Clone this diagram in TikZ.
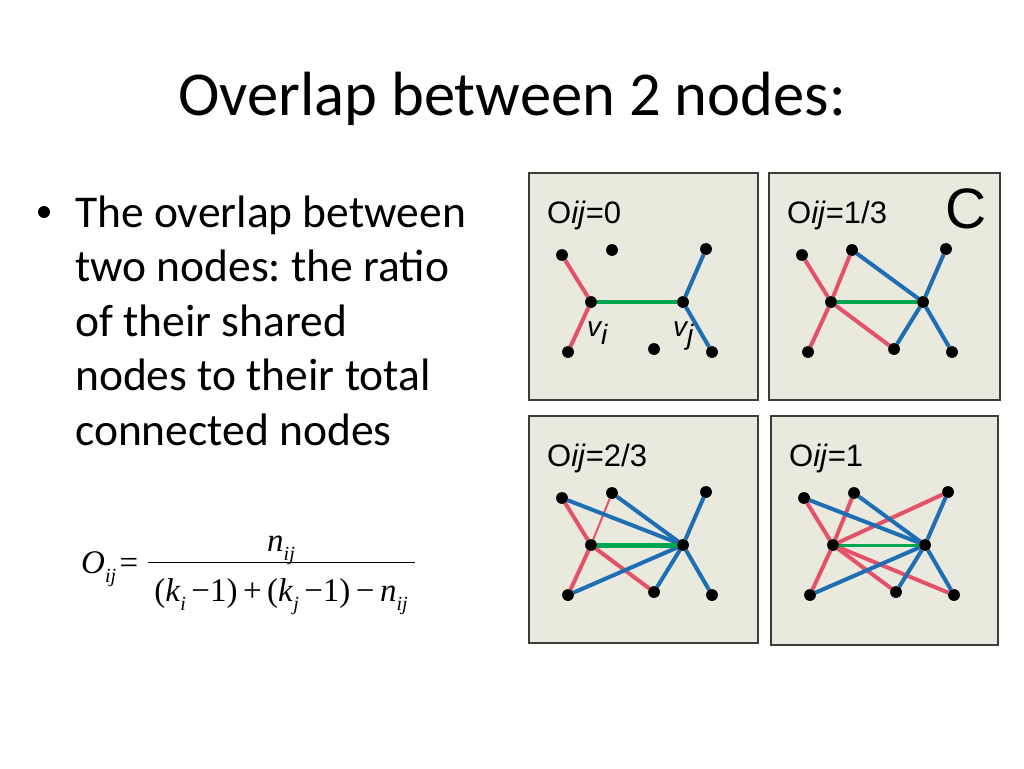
\documentclass[tikz,border=0pt]{standalone}
\usepackage{fontspec}
\setmainfont{Carlito}
\newfontfamily\hv{Liberation Sans}
\newfontfamily\tms{Liberation Serif}
\frenchspacing
\definecolor{pbg}{RGB}{233,233,222}
\definecolor{pborder}{RGB}{60,60,60}
\definecolor{ered}{RGB}{228,82,106}
\definecolor{eblue}{RGB}{30,110,180}
\definecolor{egreen}{RGB}{0,165,80}
\newcommand\mysub[1]{\raisebox{-0.3em}{\fontsize{20}{20}\selectfont\itshape #1}}
\newcommand\vsub[1]{\raisebox{-8pt}{#1}}
\tikzset{
  panel/.style={draw=pborder, line width=2.2pt, fill=pbg},
  dot/.style={circle, fill=black, inner sep=0pt, minimum size=11.5pt},
  redge/.style={draw=ered, line width=4pt},
  bedge/.style={draw=eblue, line width=4pt},
  gedge/.style={draw=egreen, line width=4pt},
  plabel/.style={anchor=base west, inner sep=0pt, font=\hv\fontsize{31}{31}\selectfont},
  vlabel/.style={anchor=base west, inner sep=0pt, font=\hv\itshape\fontsize{28}{28}\selectfont},
  title/.style={anchor=base, inner sep=0pt, font=\fontsize{62.5}{62.5}\selectfont},
  body/.style={anchor=base west, inner sep=0pt, font=\fontsize{45.5}{45.5}\selectfont},
  fml/.style={inner sep=0pt, font=\tms\fontsize{33}{33}\selectfont}
}
\newcommand\graphnodes[1]{%
  \node[dot] (#1TL) at (33,82) {};
  \node[dot] (#1TM) at (83,77) {};
  \node[dot] (#1vi) at (62,129) {};
  \node[dot] (#1vj) at (154,129) {};
  \node[dot] (#1TR) at (177,76) {};
  \node[dot] (#1BL) at (39,179) {};
  \node[dot] (#1BM) at (125,176) {};
  \node[dot] (#1BR) at (183,179) {};
}
\begin{document}
\begin{tikzpicture}[x=1pt,y=-1pt]
\useasboundingbox[fill=white] (0,0) rectangle (1024,768);
% title
\node[title] (ttl) at (512,115) {Overlap between 2 nodes:};
% bullet
\node[circle, fill=black, inner sep=0pt, minimum size=12pt] (bul) at (44,212) {};
\node[body] (l1) at (75,227) {The overlap between};
\node[body] (l2) at (75,281.5) {two nodes: the ratio};
\node[body] (l3) at (75,336) {of their shared};
\node[body] (l4) at (75,390.5) {nodes to their total};
\node[body] (l5) at (75,445) {connected nodes};
% formula
\node[fml, anchor=base west] (fO) at (81,573) {\itshape O\mysub{ij}};
\node[fml, anchor=center] (feq) at (129,566) {=};
\draw[line width=1pt] (148,562) -- (415,562) coordinate (fline);
\node[fml, anchor=base] (fnum) at (281,551) {\itshape n\mysub{ij}};
\node[fml, anchor=base] (fden) at (281,601) {(\textit{k}\mysub{i}\,−1)\,+\,(\textit{k}\mysub{j}\,−1)\,−\,\textit{n}\mysub{ij}};
% panel 1
\begin{scope}[shift={(529,173)}]
  \draw[panel] (0,0) rectangle (229,227);
  \node[plabel] (p1lab) at (18,50) {O\textit{ij}=0};
  \graphnodes{a}
  \draw[redge] (aTL) -- (avi) -- (aBL);
  \draw[bedge] (aTR) -- (avj) -- (aBR);
  \draw[gedge] (avi) -- (avj);
  \graphnodes{a}
  \node[vlabel] (avil) at (58,163) {v\vsub{i}};
  \node[vlabel] (avjl) at (144,163) {v\vsub{j}};
\end{scope}
% panel 2
\begin{scope}[shift={(769,173)}]
  \draw[panel] (0,0) rectangle (231,227);
  \node[plabel] (p2lab) at (18,50) {O\textit{ij}=1/3};
  \node[anchor=base west, inner sep=0pt, font=\hv\fontsize{57}{57}\selectfont] (cC) at (176,55) {C};
  \graphnodes{b}
  \draw[redge] (bTL) -- (bvi) -- (bBM);
  \draw[redge] (bTM) -- (bvi) -- (bBL);
  \draw[bedge] (bTM) -- (bvj) -- (bBR);
  \draw[bedge] (bTR) -- (bvj) -- (bBM);
  \draw[gedge] (bvi) -- (bvj);
  \graphnodes{b}
\end{scope}
% panel 3
\begin{scope}[shift={(529,416)}]
  \draw[panel] (0,0) rectangle (229,227);
  \node[plabel] (p3lab) at (18,50) {O\textit{ij}=2/3};
  \graphnodes{c}
  \draw[redge] (cTL) -- (cvi) -- (cBM);
  \draw[redge] (cvi) -- (cBL);
  \draw[draw=ered, line width=2pt] (cTM) -- (cvi);
  \draw[bedge] (cTL) -- (cvj);
  \draw[bedge] (cTM) -- (cvj);
  \draw[bedge] (cTR) -- (cvj) -- (cBR);
  \draw[bedge] (cBL) -- (cvj) -- (cBM);
  \draw[gedge, line width=5pt] (cvi) -- (cvj);
  \graphnodes{c}
\end{scope}
% panel 4
\begin{scope}[shift={(771,416)}]
  \draw[panel] (0,0) rectangle (227,229);
  \node[plabel] (p4lab) at (18,50) {O\textit{ij}=1};
  \graphnodes{d}
  \draw[redge] (dTL) -- (dvi) -- (dBM);
  \draw[redge] (dTM) -- (dvi) -- (dBL);
  \draw[redge] (dTR) -- (dvi) -- (dBR);
  \draw[bedge] (dTL) -- (dvj) -- (dBM);
  \draw[bedge] (dTM) -- (dvj) -- (dBL);
  \draw[bedge] (dTR) -- (dvj) -- (dBR);
  \draw[gedge, line width=3pt] (dvi) -- (dvj);
  \graphnodes{d}
\end{scope}
\end{tikzpicture}
\end{document}
